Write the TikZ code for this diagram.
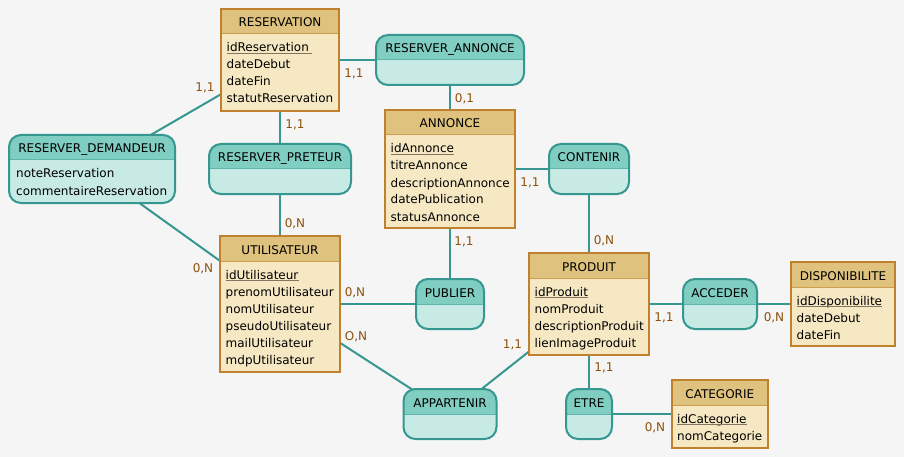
\documentclass[tikz,border=0pt]{standalone}
\usepackage{fontspec}
\setmainfont{DejaVu Sans}
\pgfdeclarelayer{bg}
\pgfsetlayers{bg,main}
\definecolor{bgc}{HTML}{F5F5F5}
\definecolor{entline}{HTML}{BF812D}
\definecolor{enthead}{HTML}{DFC27D}
\definecolor{entbody}{HTML}{F6E8C3}
\definecolor{assline}{HTML}{35978F}
\definecolor{asshead}{HTML}{80CDC1}
\definecolor{assbody}{HTML}{C7EAE5}
\definecolor{cardc}{HTML}{8C510A}
\definecolor{ulc}{HTML}{857560}
\tikzset{
  entbox/.style={draw=entline, line width=2pt, inner sep=0pt},
  assbox/.style={draw=assline, line width=2pt, inner sep=0pt, rounded corners=12pt},
  entsep/.style={draw=entline!55!enthead, line width=1pt},
  asssep/.style={draw=assline!45!asshead, line width=1pt},
  ttl/.style={font=\fontsize{12}{14}\selectfont, text=black, inner sep=0pt, anchor=base},
  attr/.style={font=\fontsize{12}{14}\selectfont, text=black, inner sep=0pt, anchor=base west},
  card/.style={font=\fontsize{12}{14}\selectfont, text=cardc, inner sep=0pt, anchor=base},
  link/.style={draw=assline, line width=2pt},
  ul/.style={draw=ulc, line width=1.2pt},
}
\newcommand\mcdent[7]{%
  \fill[entbody] (#2,#3) rectangle (#4,#5);
  \fill[enthead] (#2,#3) rectangle (#4,#6);
  \draw[entsep] (#2,#6) -- (#4,#6);
  \node[entbox, minimum width={#4pt-#2pt}, minimum height={#5pt-#3pt}] (#1) at ({(#2+#4)/2},{(#3+#5)/2}) {};
  \node[ttl] (#1-t) at ({(#2+#4)/2},{(#3+#6)/2+5.5}) {#7};
}
\newcommand\mcdass[7]{%
  \begin{scope}
    \clip[rounded corners=12pt] (#2,#3) rectangle (#4,#5);
    \fill[assbody] (#2,#3) rectangle (#4,#5);
    \fill[asshead] (#2,#3) rectangle (#4,#6);
    \draw[asssep] (#2,#6) -- (#4,#6);
  \end{scope}
  \node[assbox, minimum width={#4pt-#2pt}, minimum height={#5pt-#3pt}] (#1) at ({(#2+#4)/2},{(#3+#5)/2}) {};
  \node[ttl] (#1-t) at ({(#2+#4)/2},{(#3+#6)/2+5.5}) {#7};
}
\newcommand\mcdattr[4]{\node[attr] (#1) at (#2,#3) {#4};}
\newcommand\mcdid[5]{%
  \node[attr] (#1) at (#2,#3) {#4};
  \draw[ul] ([yshift=-1.8pt]#1.base west) -- ([yshift=-1.8pt,xshift=#5pt]#1.base east);
}
\begin{document}
\begin{tikzpicture}[x=1pt,y=-1pt]
\useasboundingbox (0,0) rectangle (904,457);
\begin{pgfonlayer}{bg}
  \fill[bgc] (0,0) rectangle (904,457);
\end{pgfonlayer}

% entities
\mcdent{reservation}{221}{9}{339}{111}{34}{RESERVATION}
\mcdid{reservation-a1}{226.5}{52}{idReservation}{3}
\mcdattr{reservation-a2}{226.5}{69}{dateDebut}
\mcdattr{reservation-a3}{226.5}{86}{dateFin}
\mcdattr{reservation-a4}{226.5}{103}{statutReservation}

\mcdent{annonce}{385}{110}{515}{228}{135}{ANNONCE}
\mcdid{annonce-a1}{390.5}{153}{idAnnonce}{0}
\mcdattr{annonce-a2}{390.5}{170}{titreAnnonce}
\mcdattr{annonce-a3}{390.5}{187}{descriptionAnnonce}
\mcdattr{annonce-a4}{390.5}{204}{datePublication}
\mcdattr{annonce-a5}{390.5}{221}{statusAnnonce}

\mcdent{utilisateur}{220}{236}{340}{372}{261}{UTILISATEUR}
\mcdid{utilisateur-a1}{225.5}{279}{idUtilisateur}{0}
\mcdattr{utilisateur-a2}{225.5}{296}{prenomUtilisateur}
\mcdattr{utilisateur-a3}{225.5}{313}{nomUtilisateur}
\mcdattr{utilisateur-a4}{225.5}{330}{pseudoUtilisateur}
\mcdattr{utilisateur-a5}{225.5}{347}{mailUtilisateur}
\mcdattr{utilisateur-a6}{225.5}{364}{mdpUtilisateur}

\mcdent{produit}{529}{253}{649}{355}{278}{PRODUIT}
\mcdid{produit-a1}{534.5}{296}{idProduit}{0}
\mcdattr{produit-a2}{534.5}{313}{nomProduit}
\mcdattr{produit-a3}{534.5}{330}{descriptionProduit}
\mcdattr{produit-a4}{534.5}{347}{lienImageProduit}

\mcdent{dispo}{791}{262}{895}{346}{287}{DISPONIBILITE}
\mcdid{dispo-a1}{796.5}{305}{idDisponibilite}{0}
\mcdattr{dispo-a2}{796.5}{322}{dateDebut}
\mcdattr{dispo-a3}{796.5}{339}{dateFin}

\mcdent{categorie}{671.5}{380}{768}{448}{405}{CATEGORIE}
\mcdid{categorie-a1}{677}{423}{idCategorie}{0}
\mcdattr{categorie-a2}{677}{440}{nomCategorie}

% associations
\mcdass{resann}{376}{35}{524}{85}{60}{RESERVER\_ANNONCE}
\mcdass{resdem}{9}{135}{175}{203}{160}{RESERVER\_DEMANDEUR}
\mcdattr{resdem-a1}{16}{178}{noteReservation}
\mcdattr{resdem-a2}{16}{195}{commentaireReservation}
\mcdass{respre}{209}{144}{351}{194}{169}{RESERVER\_PRETEUR}
\mcdass{contenir}{549}{144}{629}{194}{169}{CONTENIR}
\mcdass{publier}{416}{279}{484}{329}{304}{PUBLIER}
\mcdass{acceder}{683}{279}{757}{329}{304}{ACCEDER}
\mcdass{appartenir}{403.5}{389}{496.5}{439}{414}{APPARTENIR}
\mcdass{etre}{566}{389}{612}{439}{414}{ETRE}

% connectors
\begin{pgfonlayer}{bg}
  \draw[link] (reservation.center) -- (resann.center);
  \draw[link] (resann.center) -- (annonce.center);
  \draw[link] (reservation.center) -- (resdem.center);
  \draw[link] (reservation.center) -- (respre.center);
  \draw[link] (respre.center) -- (utilisateur.center);
  \draw[link] (resdem.center) -- (utilisateur.center);
  \draw[link] (annonce.center) -- (contenir.center);
  \draw[link] (contenir.center) -- (produit.center);
  \draw[link] (annonce.center) -- (publier.center);
  \draw[link] (utilisateur.center) -- (publier.center);
  \draw[link] (utilisateur.center) -- (appartenir.center);
  \draw[link] (produit.center) -- (appartenir.center);
  \draw[link] (produit.center) -- (acceder.center);
  \draw[link] (acceder.center) -- (dispo.center);
  \draw[link] (produit.center) -- (etre.center);
  \draw[link] (etre.center) -- (categorie.center);
\end{pgfonlayer}

% cardinalities
\node[card] (c1) at (354,77.5) {1,1};
\node[card] (c2) at (464.5,102.5) {0,1};
\node[card] (c3) at (205,91.5) {1,1};
\node[card] (c4) at (295,128.5) {1,1};
\node[card] (c5) at (295,227.5) {0,N};
\node[card] (c6) at (203,272.5) {0,N};
\node[card] (c7) at (530,186.5) {1,1};
\node[card] (c8) at (604,244.5) {0,N};
\node[card] (c9) at (464,245.5) {1,1};
\node[card] (c10) at (355,296.5) {0,N};
\node[card] (c11) at (356,340.5) {O,N};
\node[card] (c12) at (512.5,348.5) {1,1};
\node[card] (c13) at (664,321.5) {1,1};
\node[card] (c14) at (774,321.5) {0,N};
\node[card] (c15) at (604,371.5) {1,1};
\node[card] (c16) at (655,431.5) {0,N};
\end{tikzpicture}
\end{document}
